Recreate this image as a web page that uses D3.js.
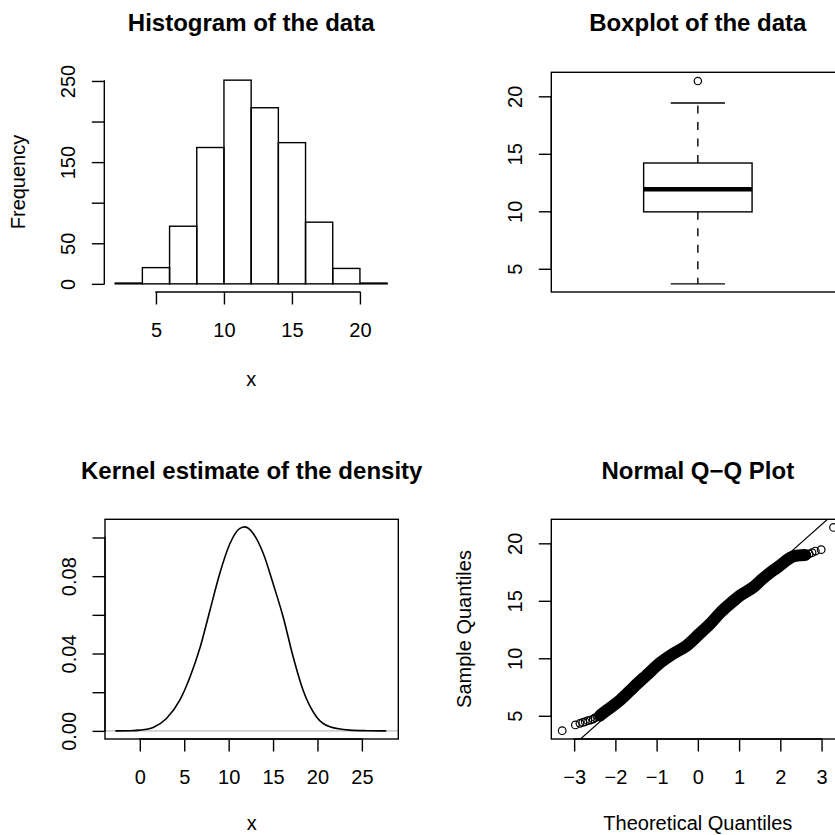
<!DOCTYPE html>
<html><head><meta charset="utf-8">
<script src="https://cdn.jsdelivr.net/npm/d3@7"></script>
<style>
body{margin:0;background:#fff}
svg{display:block}
text{font-family:"Liberation Sans",Arial,Helvetica,sans-serif;fill:#000}
</style></head>
<body><svg id="c" width="835" height="835"></svg>
<script>
// ---------- data ----------
const histBreaks = [2,4,6,8,10,12,14,16,18,20,22];
const histCounts = [1,20,71,168,251,217,174,76,19,1];
const histYTicks = [0,50,100,150,200,250];
const histYLabels = [0,50,150,250];
const histXTicks = [5,10,15,20];

const boxStats = [3.69, 9.95, 11.92, 14.2, 19.42]; // min whisker, Q1, median, Q3, max whisker
const boxOutliers = [21.33];
const boxYTicks = [5,10,15,20];

const densityX = [-2.75,-1,0,1.5,3,4.5,5.65,6.8,7.9,9.0,10.15,11.27,11.85,12.76,13.9,15.0,16.13,17.26,18.38,19.9,21.4,23.6,25.5,27.75];
const densityY = [0.0000,0.0001,0.0004,0.0018,0.0064,0.0159,0.0279,0.0434,0.0624,0.0814,0.0969,0.1047,0.1055,0.1021,0.0917,0.0762,0.0590,0.0383,0.0210,0.0072,0.0021,0.0004,0.0001,0.0000];
const densityYTicks = [0,0.02,0.04,0.06,0.08,0.10];
const densityYLabels = [0,0.04,0.08];
const densityXTicks = [0,5,10,15,20,25];

const qqLowTail = [[-3.29,3.70],[-2.97,4.20],[-2.86,4.34],[-2.79,4.43],[-2.73,4.48],[-2.67,4.57],[-2.61,4.63],[-2.54,4.71],[-2.49,4.83],[-2.43,4.91],[-2.37,5.03]];
const qqBand = [[-2.37,5.03],[-2.2,5.5],[-1.88,6.37],[-1.56,7.48],[-1.24,8.54],[-0.91,9.62],[-0.6,10.4],[-0.27,11.1],[0.06,12.2],[0.3,13.0],[0.54,13.95],[0.8,14.8],[1.02,15.45],[1.35,16.2],[1.55,16.85],[1.83,17.65],[2.0,18.1],[2.16,18.55],[2.3,18.85],[2.45,18.95],[2.6,18.98]];
const qqHighTail = [[2.64,18.98],[2.70,19.08],[2.77,19.19],[2.85,19.33],[2.99,19.45],[3.29,21.38]];
const qqLine = [12.06, 3.19]; // intercept, slope
const qqXTicks = [-3,-2,-1,0,1,2,3];
const qqYTicks = [5,10,15,20];

// ---------- helpers ----------
const svg = d3.select("#c");
const FONT = 20, TITLE = 24, TICK = 12.5, LW = 1.4;

function yAxis(g, scale, x, ticks, labels, fmt) {
  g.attr("transform", `translate(${x},0)`)
   .call(d3.axisLeft(scale).tickValues(ticks).tickSize(TICK).tickPadding(0)
     .tickFormat(d => labels.includes(d) ? fmt(d) : ""));
  g.select(".domain").remove();
  g.append("line").attr("y1", scale(ticks[0])).attr("y2", scale(ticks[ticks.length-1]))
   .attr("stroke","#000").attr("stroke-width",LW).attr("stroke-linecap","square");
  g.selectAll(".tick line").attr("stroke","#000").attr("stroke-width",LW);
  g.selectAll(".tick text").attr("x",0).attr("y",-29).attr("dy",null)
   .attr("transform","rotate(-90)").attr("text-anchor","middle").attr("font-size",FONT);
}
function xAxis(g, scale, y, ticks, fmt) {
  g.attr("transform", `translate(0,${y})`)
   .call(d3.axisBottom(scale).tickValues(ticks).tickSize(TICK).tickFormat(fmt));
  g.select(".domain").remove();
  g.append("line").attr("x1", scale(ticks[0])).attr("x2", scale(ticks[ticks.length-1]))
   .attr("stroke","#000").attr("stroke-width",LW).attr("stroke-linecap","square");
  g.selectAll(".tick line").attr("stroke","#000").attr("stroke-width",LW);
  g.selectAll(".tick text").attr("y",45).attr("dy","0").attr("font-size",FONT);
}
function title(x, y, s) {
  svg.append("text").attr("x",x).attr("y",y).attr("text-anchor","middle")
    .attr("font-size",TITLE).attr("font-weight","bold").text(s);
}
function label(x, y, s, rot) {
  const t = svg.append("text").attr("text-anchor","middle").attr("font-size",FONT).text(s);
  if (rot) t.attr("transform",`translate(${x},${y}) rotate(-90)`);
  else t.attr("x",x).attr("y",y);
}
function frame(x0,x1,y0,y1){
  svg.append("rect").attr("x",x0).attr("y",y0).attr("width",x1-x0).attr("height",y1-y0)
    .attr("fill","none").attr("stroke","#000").attr("stroke-width",LW);
}

// ---------- panel 1: histogram ----------
{
  const x = d3.scaleLinear().domain([1.2,22.8]).range([104.3,398]);
  const y = d3.scaleLinear().domain([-10.04,261.04]).range([292,72]);
  const bins = histCounts.map((c,i)=>({x0:histBreaks[i],x1:histBreaks[i+1],c}));
  svg.append("g").selectAll("rect").data(bins).join("rect")
    .attr("x",d=>x(d.x0)).attr("width",d=>x(d.x1)-x(d.x0))
    .attr("y",d=>y(d.c)).attr("height",d=>y(0)-y(d.c))
    .attr("fill","none").attr("stroke","#000").attr("stroke-width",LW);
  yAxis(svg.append("g"), y, 104.3, histYTicks, histYLabels, d=>String(d));
  xAxis(svg.append("g"), x, 292, histXTicks, d=>String(d));
  title(251.2, 31, "Histogram of the data");
  label(251.2, 386, "x");
  label(25, 182, "Frequency", true);
}

// ---------- panel 2: boxplot ----------
{
  const x = d3.scaleLinear().domain([0.5,1.5]).range([551.3,844.4]);
  const y = d3.scaleLinear().domain([2.98,22.09]).range([292,72.3]);
  const g = svg.append("g");
  const [lo,q1,med,q3,hi] = boxStats;
  const bw = 0.185, cw = 0.0925;
  g.append("line").attr("x1",x(1)).attr("x2",x(1)).attr("y1",y(q3)).attr("y2",y(hi))
    .attr("stroke","#000").attr("stroke-width",LW).attr("stroke-dasharray","8,8.5");
  g.append("line").attr("x1",x(1)).attr("x2",x(1)).attr("y1",y(q1)).attr("y2",y(lo))
    .attr("stroke","#000").attr("stroke-width",LW).attr("stroke-dasharray","8,8.5");
  [lo,hi].forEach(v=>g.append("line").attr("x1",x(1-cw)).attr("x2",x(1+cw))
    .attr("y1",y(v)).attr("y2",y(v)).attr("stroke","#000").attr("stroke-width",LW));
  g.append("rect").attr("x",x(1-bw)).attr("width",x(1+bw)-x(1-bw))
    .attr("y",y(q3)).attr("height",y(q1)-y(q3))
    .attr("fill","#fff").attr("stroke","#000").attr("stroke-width",LW);
  g.append("line").attr("x1",x(1-bw)).attr("x2",x(1+bw)).attr("y1",y(med)).attr("y2",y(med))
    .attr("stroke","#000").attr("stroke-width",4.5);
  g.selectAll("circle").data(boxOutliers).join("circle")
    .attr("cx",x(1)).attr("cy",d=>y(d)).attr("r",3.7)
    .attr("fill","none").attr("stroke","#000").attr("stroke-width",1.2);
  frame(551.3,844.4,72.3,292);
  yAxis(svg.append("g"), y, 551.3, boxYTicks, boxYTicks, d=>String(d));
  title(697.8, 31, "Boxplot of the data");
}

// ---------- panel 3: density ----------
{
  const x = d3.scaleLinear().domain([-3.92,29.1]).range([105,398.3]);
  const y = d3.scaleLinear().domain([-0.0042,0.1094]).range([739,519.3]);
  svg.append("line").attr("x1",105).attr("x2",398.3).attr("y1",y(0)).attr("y2",y(0))
    .attr("stroke","#bebebe").attr("stroke-width",1.2);
  const pts = densityX.map((v,i)=>[v,densityY[i]]);
  svg.append("path").datum(pts)
    .attr("d", d3.line().x(d=>x(d[0])).y(d=>y(d[1])).curve(d3.curveMonotoneX))
    .attr("fill","none").attr("stroke","#000").attr("stroke-width",1.6);
  frame(105,398.3,519.3,739);
  yAxis(svg.append("g"), y, 105, densityYTicks, densityYLabels, d3.format(".2f"));
  xAxis(svg.append("g"), x, 739, densityXTicks, d=>String(d));
  title(251.7, 478.5, "Kernel estimate of the density");
  label(251.7, 830, "x");
}

// ---------- panel 4: Q-Q plot ----------
{
  const x = d3.scaleLinear().domain([-3.554,3.554]).range([551.3,844.4]);
  const y = d3.scaleLinear().domain([2.98,22.09]).range([739,519.3]);
  const clip = svg.append("clipPath").attr("id","qqclip");
  clip.append("rect").attr("x",551.3).attr("y",519.3).attr("width",293.1).attr("height",219.7);
  const g = svg.append("g");
  const [a,b] = qqLine;
  g.append("line").attr("clip-path","url(#qqclip)")
    .attr("x1",x(-3.554)).attr("y1",y(a+b*-3.554)).attr("x2",x(3.554)).attr("y2",y(a+b*3.554))
    .attr("stroke","#000").attr("stroke-width",1.2);
  g.append("path").datum(qqBand)
    .attr("d", d3.line().x(d=>x(d[0])).y(d=>y(d[1])).curve(d3.curveMonotoneX))
    .attr("fill","none").attr("stroke","#000").attr("stroke-width",12)
    .attr("stroke-linecap","round").attr("stroke-linejoin","round");
  const all = qqLowTail.concat(qqBand, qqHighTail);
  g.selectAll("circle").data(all).join("circle")
    .attr("cx",d=>x(d[0])).attr("cy",d=>y(d[1])).attr("r",3.8)
    .attr("fill","none").attr("stroke","#000").attr("stroke-width",1.2);
  frame(551.3,844.4,519.3,739);
  yAxis(svg.append("g"), y, 551.3, qqYTicks, qqYTicks, d=>String(d));
  xAxis(svg.append("g"), x, 739, qqXTicks, d3.format("d"));
  title(697.8, 478.5, "Normal Q\u2212Q Plot");
  label(697.8, 830, "Theoretical Quantiles");
  label(471, 629, "Sample Quantiles", true);
}
</script></body></html>
